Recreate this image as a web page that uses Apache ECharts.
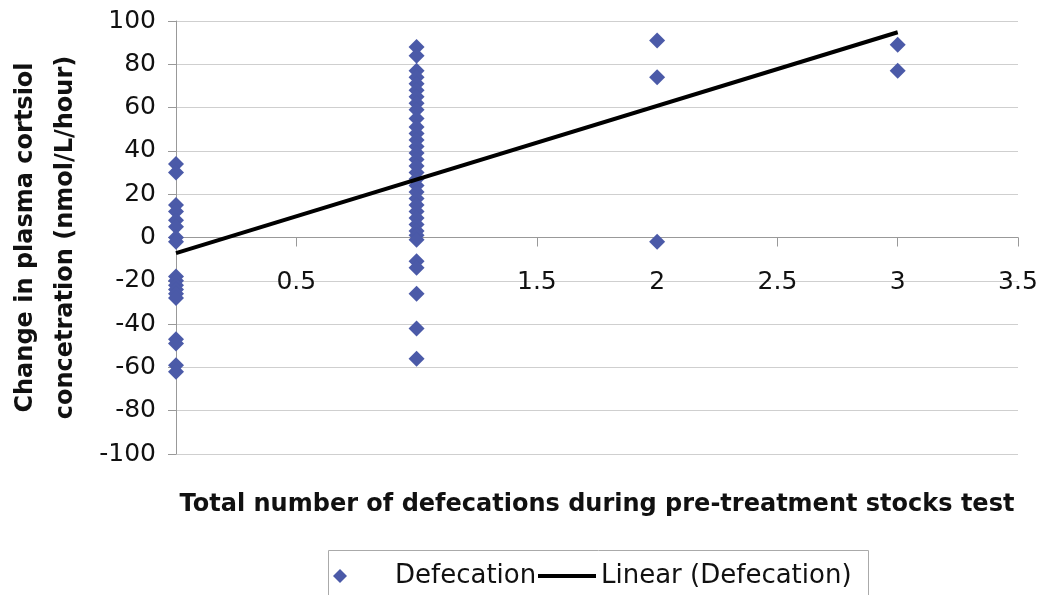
<!DOCTYPE html>
<html>
<head>
<meta charset="utf-8">
<script src="https://cdn.jsdelivr.net/npm/echarts@6/dist/echarts.min.js"></script>
<style>html,body{margin:0;padding:0;background:#fff}#c{width:1048px;height:595px}</style>
</head>
<body>
<div id="c"></div>
<script>
// Cortisol change (y) grouped by total number of defecations (x)
const defecCounts = [0, 1, 2, 3];
const yAt0 = [34, 30, 15, 12, 8, 5, 0, -2, -18, -20, -22, -24, -26, -28, -47, -49, -59, -62];
const yAt1 = [88, 84, 77, 74, 71, 68, 65, 62, 59, 55, 51, 48, 45, 42, 39, 36, 33, 30, 27, 24, 21, 18, 15, 12, 9, 6, 3, 1, -1, -11, -14, -26, -42, -56];
const yAt2 = [91, 74, -2];
const yAt3 = [89, 77];
// Linear trend line endpoints
const trendX = [0, 3];
const trendY = [-7.2, 94.8];
// Axis ticks
const xTicks = [0, 0.5, 1, 1.5, 2, 2.5, 3, 3.5];
const yTicks = [-100, -80, -60, -40, -20, 0, 20, 40, 60, 80, 100];

const groups = [yAt0, yAt1, yAt2, yAt3];
const scatterData = [];
groups.forEach((ys, gi) => ys.forEach(y => scatterData.push([defecCounts[gi], y])));
const trendData = trendX.map((x, i) => [x, trendY[i]]);
const hiddenXLabels = [0, 1];

const chart = echarts.init(document.getElementById('c'), null, {renderer: 'canvas'});
const FONT = 'DejaVu Sans';
chart.setOption({
  animation: false,
  backgroundColor: '#fff',
  grid: {left: 176, right: 30, top: 21, bottom: 141, containLabel: false, outerBoundsMode: 'none'},
  xAxis: {
    type: 'value',
    min: xTicks[0], max: xTicks[xTicks.length - 1], interval: 0.5,
    axisLine: {onZero: true, lineStyle: {color: '#999', width: 1}},
    axisTick: {show: true, length: 9, inside: false, lineStyle: {color: '#999'}},
    axisLabel: {
      margin: -184, fontFamily: FONT, fontSize: 25, color: '#111',
      formatter: v => hiddenXLabels.includes(v) ? '' : String(v)
    },
    splitLine: {show: false},
    name: 'Total number of defecations during pre-treatment stocks test',
    nameLocation: 'middle', nameGap: 39,
    nameTextStyle: {fontFamily: FONT, fontWeight: 'bold', fontSize: 24, color: '#111'}
  },
  yAxis: {
    type: 'value',
    min: yTicks[0], max: yTicks[yTicks.length - 1], interval: 20,
    axisLine: {show: true, lineStyle: {color: '#999', width: 1}},
    axisTick: {show: true, length: 8, lineStyle: {color: '#999'}},
    axisLabel: {margin: 20, fontFamily: FONT, fontSize: 25, color: '#111'},
    splitLine: {show: true, lineStyle: {color: '#cfcfcf', width: 1}},
    name: 'Change in plasma cortsiol\nconcetration (nmol/L/hour)',
    nameLocation: 'middle', nameRotate: 90, nameGap: 90,
    nameTextStyle: {fontFamily: FONT, fontWeight: 'bold', fontSize: 24, color: '#111', lineHeight: 40, align: 'center'}
  },
  legend: [
    {
      data: [{name: 'Defecation', icon: 'diamond'}],
      left: 333, top: 563, padding: 0,
      itemWidth: 14, itemHeight: 14,
      textStyle: {fontFamily: FONT, fontSize: 26, color: '#111', padding: [0, 0, 0, 43]}
    },
    {
      data: [{name: 'Linear (Defecation)', icon: 'rect'}],
      left: 538, top: 563, padding: 0,
      itemWidth: 58, itemHeight: 4,
      textStyle: {fontFamily: FONT, fontSize: 26, color: '#111'}
    }
  ],
  graphic: [{
    type: 'rect', silent: true,
    shape: {x: 328.5, y: 550.5, width: 540, height: 70},
    style: {fill: 'none', stroke: '#aaa', lineWidth: 1}
  }],
  series: [
    {
      name: 'Defecation', type: 'scatter', data: scatterData,
      symbol: 'diamond', symbolSize: 16,
      itemStyle: {color: '#4b5aa8', opacity: 1}, z: 3
    },
    {
      name: 'Linear (Defecation)', type: 'line', data: trendData,
      symbol: 'none', showSymbol: false,
      lineStyle: {color: '#000', width: 4}, itemStyle: {color: '#000'}, z: 4
    }
  ]
});
</script>
</body>
</html>
